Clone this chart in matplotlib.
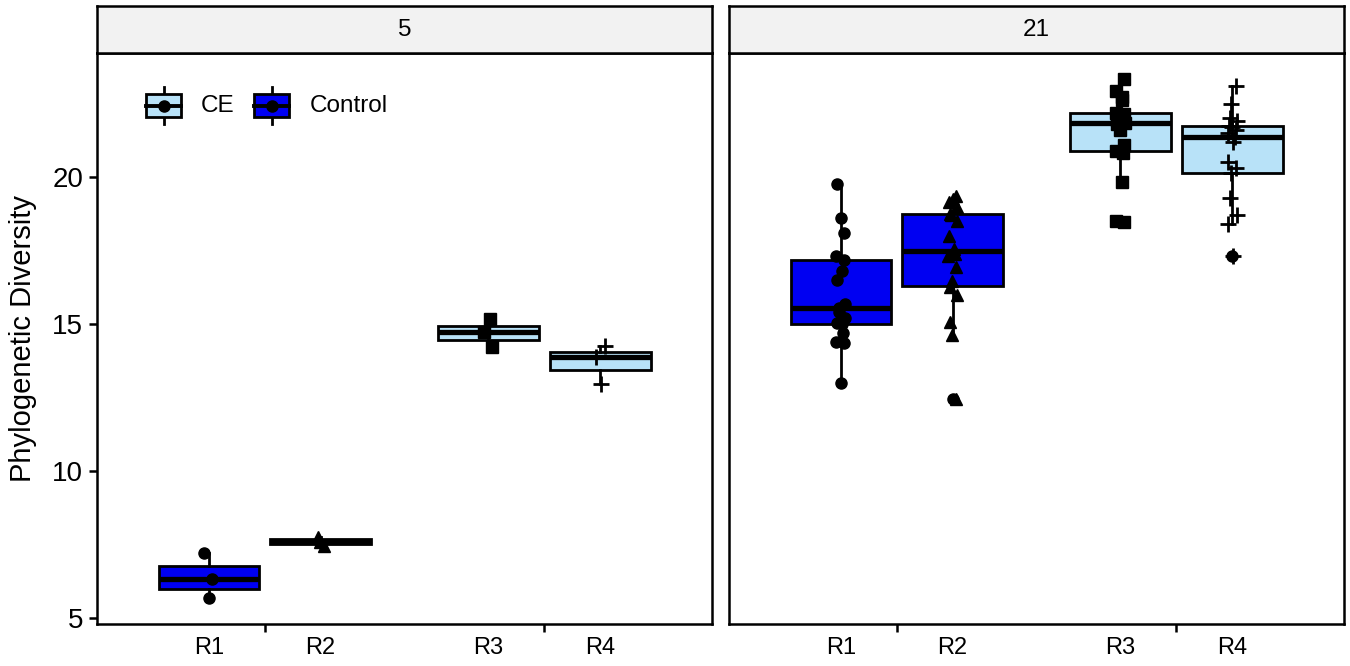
import numpy as np
import matplotlib
matplotlib.use("Agg")
import matplotlib.pyplot as plt
from matplotlib.patches import Rectangle
from matplotlib.lines import Line2D

plt.rcParams['font.family'] = ['Liberation Sans', 'DejaVu Sans']

# ---------------- data ----------------
panels = ["5", "21"]
regions = ["R1", "R2", "R3", "R4"]
treatment = ["Control", "Control", "CE", "CE"]

day5_R1 = [5.68, 6.32, 7.2]
day5_R2 = [7.45, 7.6, 7.75]
day5_R3 = [14.22, 14.73, 15.17]
day5_R4 = [12.97, 13.88, 14.25]

day21_R1 = [13.0, 14.35, 14.4, 14.7, 15.0, 15.05, 15.2, 15.4, 15.55, 15.7,
            16.5, 16.8, 17.17, 17.3, 18.1, 18.6, 19.75]
day21_R2 = [12.46, 14.62, 15.07, 16.0, 16.25, 16.45, 16.93, 17.3, 17.4, 17.55,
            18.0, 18.5, 18.7, 18.75, 19.0, 19.15, 19.25, 19.35]
day21_R3 = [18.48, 18.52, 19.85, 20.83, 20.9, 21.1, 21.61, 21.8, 21.85, 21.95,
            22.05, 22.15, 22.19, 22.63, 22.73, 22.93, 23.34]
day21_R4 = [17.3, 18.4, 18.7, 19.3, 20.15, 20.3, 20.5, 21.2, 21.37, 21.5,
            21.6, 21.7, 21.75, 21.9, 22.0, 22.5, 23.1]

data = {
    "5": [day5_R1, day5_R2, day5_R3, day5_R4],
    "21": [day21_R1, day21_R2, day21_R3, day21_R4],
}
yticks = [5, 10, 15, 20]

# ---------------- style ----------------
fill_colors = {"Control": "#0000F2", "CE": "#B8E2F8"}
markers = {"R1": ("o", 8), "R2": ("^", 9), "R3": ("s", 8), "R4": ("+", 12)}
group_of = [1, 1, 2, 2]
dodge = [-0.2, 0.2, -0.2, 0.2]
box_w = 0.36

W, H = 1350, 666
fig = plt.figure(figsize=(W / 100, H / 100), dpi=100)

def fx(px):
    return px / W

def fy(py):
    return 1 - py / H

panel_x = [(97, 712), (729, 1344)]
top_y, bot_y = 53, 624
strip_top = 6

allv = np.concatenate([np.concatenate(data[p]) for p in panels])
lo, hi = allv.min(), allv.max()
rng = hi - lo
ylim = (lo - 0.05 * rng, hi + 0.05 * rng)

axes = []
for i, p in enumerate(panels):
    x0, x1 = panel_x[i]
    ax = fig.add_axes([fx(x0), fy(bot_y), (x1 - x0) / W, (bot_y - top_y) / H])
    axes.append(ax)
    sax = fig.add_axes([fx(x0), fy(top_y), (x1 - x0) / W, (top_y - strip_top) / H])
    sax.set_facecolor("#F2F2F2")
    sax.set_xticks([]); sax.set_yticks([])
    for s in sax.spines.values():
        s.set_linewidth(1.8); s.set_color("black")
    sax.text(0.5, 0.5, p, ha="center", va="center", fontsize=17.5,
             transform=sax.transAxes)

    for j, vals in enumerate(data[p]):
        pos = group_of[j] + dodge[j]
        ax.boxplot([vals], positions=[pos], widths=box_w, patch_artist=True,
                   whis=1.5, showcaps=False, manage_ticks=False,
                   boxprops=dict(facecolor=fill_colors[treatment[j]],
                                 edgecolor="black", linewidth=2.0),
                   medianprops=dict(color="black", linewidth=3.8),
                   whiskerprops=dict(color="black", linewidth=2.0),
                   flierprops=dict(marker="o", markerfacecolor="black",
                                   markeredgecolor="black", markersize=8),
                   zorder=2)
        m, ms = markers[regions[j]]
        n = len(vals)
        jit = 0.016 * np.sin(np.arange(n) * 2.3 + j)
        if m == "+":
            ax.plot(pos + jit, vals, ls="none", marker=m, ms=ms, mew=2.0,
                    color="black", zorder=4)
        else:
            ax.plot(pos + jit, vals, ls="none", marker=m, ms=ms,
                    color="black", zorder=4)
        ax.annotate(regions[j], xy=(pos, 0), xycoords=("data", "axes fraction"),
                    xytext=(0, -9), textcoords="offset points",
                    ha="center", va="top", fontsize=17)

    ax.set_xlim(0.4, 2.6)
    ax.set_ylim(*ylim)
    ax.set_xticks([1, 2])
    ax.set_xticklabels([])
    ax.tick_params(axis="x", length=6, width=1.8, color="black")
    for s in ax.spines.values():
        s.set_linewidth(1.8); s.set_color("black")
    if i == 0:
        ax.set_yticks(yticks)
        ax.set_yticklabels([str(t) for t in yticks], fontsize=20)
        ax.tick_params(axis="y", length=6, width=1.8, pad=4, color="black")
    else:
        ax.set_yticks([])

fig.text(fx(23), fy((top_y + bot_y) / 2), "Phylogenetic Diversity", rotation=90,
         ha="center", va="center", fontsize=21)

# ---------------- legend (drawn in left panel) ----------------
ax0 = axes[0]
legend_items = ["CE", "Control"]
key_left_px = [146, 254]
text_left_px = [201, 310]
px0, px1 = panel_x[0]
pw, ph = px1 - px0, bot_y - top_y

def ax_x(px):
    return (px - px0) / pw

def ax_y(py):
    return 1 - (py - top_y) / ph

for k, lab in enumerate(legend_items):
    kl = key_left_px[k]
    kr = kl + 35
    kc = (kl + kr) / 2
    ax0.add_line(Line2D([ax_x(kc), ax_x(kc)], [ax_y(87), ax_y(124)],
                        transform=ax0.transAxes, color="black", lw=2.0, zorder=5))
    ax0.add_patch(Rectangle((ax_x(kl), ax_y(117)), ax_x(kr) - ax_x(kl),
                            ax_y(94) - ax_y(117), transform=ax0.transAxes,
                            facecolor=fill_colors[lab], edgecolor="black",
                            lw=2.0, zorder=6))
    ax0.add_line(Line2D([ax_x(kl), ax_x(kr)], [ax_y(105.5), ax_y(105.5)],
                        transform=ax0.transAxes, color="black", lw=2.8, zorder=7))
    ax0.plot([ax_x(kc)], [ax_y(105.5)], marker="o", ms=8, color="black",
             transform=ax0.transAxes, zorder=8)
    ax0.text(ax_x(text_left_px[k]), ax_y(105.5), lab, transform=ax0.transAxes,
             ha="left", va="center", fontsize=17.5)

fig.savefig("out.png", dpi=100)
